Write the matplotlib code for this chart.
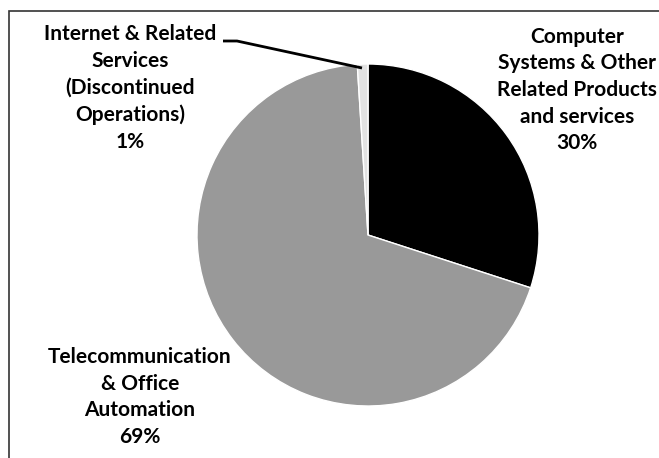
import matplotlib.pyplot as plt
from matplotlib.patches import Rectangle

# slice data (clockwise from 12 o'clock)
segments = ["Computer\nSystems & Other\nRelated Products\nand services",
            "Telecommunication\n& Office\nAutomation",
            "Internet & Related\nServices\n(Discontinued\nOperations)"]
shares = [30, 69, 1]
colours = ["#000000", "#999999", "#e2e2e2"]

W, H = 659, 458
fig = plt.figure(figsize=(W / 100, H / 100), dpi=100)
ax = fig.add_axes([0, 0, 1, 1])

cx, cy, r = 368, H - 235, 171
ax.pie(shares, colors=colours, startangle=90, counterclock=False,
       center=(cx, cy), radius=r,
       wedgeprops=dict(edgecolor="white", linewidth=1))
ax.set_xlim(0, W)
ax.set_ylim(0, H)
ax.set_aspect("equal")
ax.axis("off")

# outer frame (right/bottom sides run off the image)
ax.add_patch(Rectangle((9, -20), 700, H - 11 + 20, fill=False,
                       edgecolor="#333333", linewidth=1.2, clip_on=False))

font = dict(family="Lato", weight="bold", size=15, ha="center", va="center",
            linespacing=1.42)
pos = [(577, H - 90), (140, H - 397), (130, H - 88)]
for name, v, (x, y) in zip(segments, shares, pos):
    ax.text(x, y, f"{name}\n{v}%", **font)

# leader line for the small slice
ax.plot([223, 237, 362], [H - 41, H - 41, H - 68], color="black", lw=2,
        solid_capstyle="butt")

fig.savefig("out.png", dpi=100)
